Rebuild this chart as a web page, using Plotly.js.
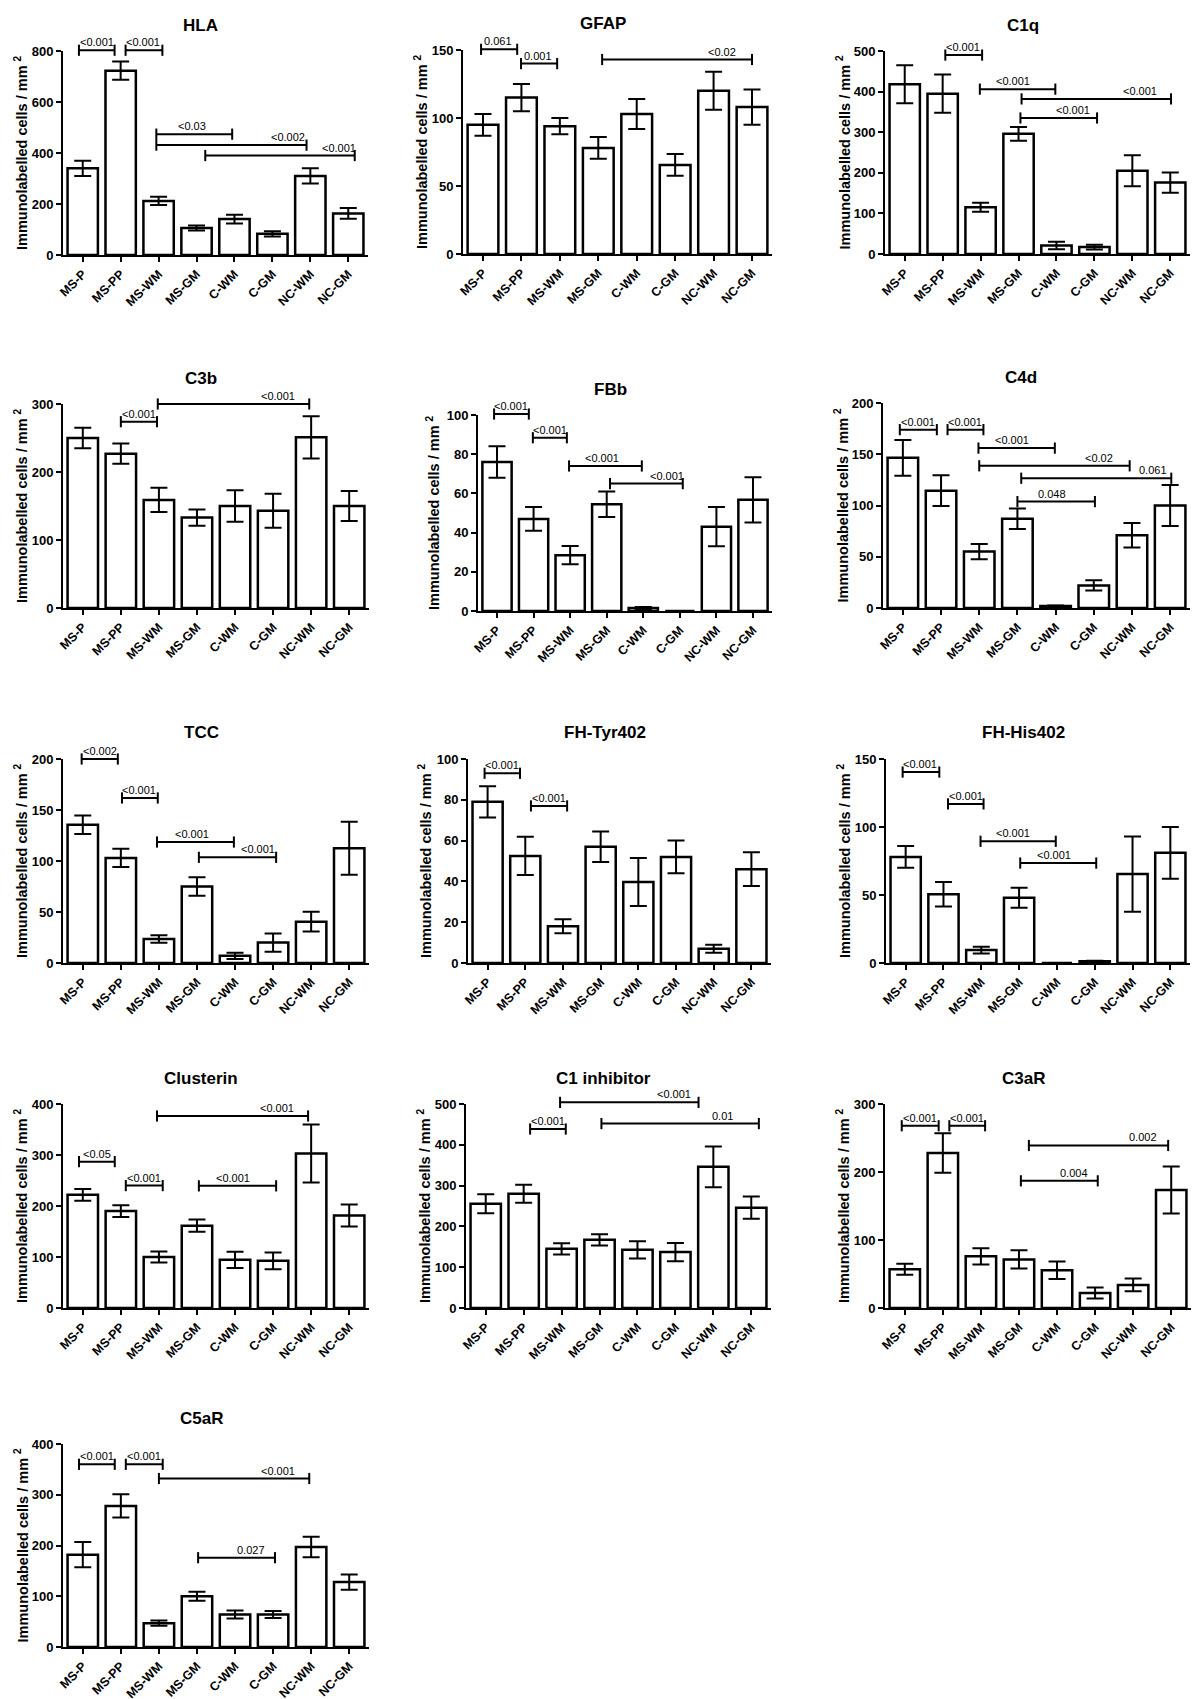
<!DOCTYPE html>
<html><head><meta charset="utf-8">
<script src="https://cdn.plot.ly/plotly-3.0.1.min.js"></script>
<style>html,body{margin:0;padding:0;background:#fff}#chart{width:1200px;height:1699px}</style>
</head><body><div id="chart"></div>
<script>
// ---------- DATA ----------
const categories = ['MS-P','MS-PP','MS-WM','MS-GM','C-WM','C-GM','NC-WM','NC-GM'];

const hlaMean = [340, 723, 212, 106, 141, 83, 310, 163];
const hlaSem  = [30, 36, 16, 10, 17, 10, 30, 21];
const gfapMean = [95, 115, 94, 78, 103, 65.5, 120, 108];
const gfapSem  = [8, 10, 6, 8, 11, 8, 14, 13];
const c1qMean = [418, 395, 115, 296, 21, 17, 205, 176];
const c1qSem  = [47, 47, 11, 17, 9, 6, 38, 25];
const c3bMean = [250, 227, 159, 133, 150, 143, 251, 150];
const c3bSem  = [15, 15, 18, 12, 23, 25, 31, 22];
const fbbMean = [76, 47, 28.5, 54.5, 1.5, 0, 43, 56.7];
const fbbSem  = [8, 6, 4.7, 6.5, 0.5, 0, 10, 11.5];
const c4dMean = [146.5, 114.5, 55, 87, 2, 22, 71, 100];
const c4dSem  = [17.5, 15, 7.5, 10, 0.5, 5, 12, 20];
const tccMean = [135.5, 103, 23.5, 75, 7, 20, 40.5, 112.5];
const tccSem  = [9, 9, 3.7, 9, 3, 9, 9.7, 26];
const tyrMean = [79, 52.5, 18, 57, 39.7, 52, 7, 46];
const tyrSem  = [7.7, 9.4, 3.4, 7.5, 11.8, 8, 2, 8.3];
const hisMean = [78, 50.5, 9.5, 48, 0, 1.2, 65.4, 81];
const hisSem  = [8, 9, 2.5, 7.3, 0, 0.5, 27.7, 19];
const cluMean = [222, 190, 100, 161.5, 94.5, 92.5, 303, 181.5];
const cluSem  = [11.5, 11.5, 11, 12, 16, 16.5, 57, 21.5];
const c1iMean = [255.5, 280, 145, 167, 142.5, 137, 346, 246];
const c1iSem  = [23.5, 22, 14, 14, 21, 22.5, 50, 27.5];
const c3arMean = [57, 228, 76, 71.5, 55.5, 22, 34, 173.5];
const c3arSem  = [8, 29, 12, 13.5, 13, 8, 9.5, 34.5];
const c5arMean = [182, 278, 47, 100, 64, 64, 197, 128];
const c5arSem  = [25, 23, 5, 9, 8, 7, 20, 15];

// comparisons: [from, to, level, p-value, label position] (from/to/label in category units)
const hlaBr = [[-0.1,0.84,803,'&lt;0.001',0.37],[1.13,2.1,803,'&lt;0.001',1.6],[1.94,3.94,474,'&lt;0.03',2.89],[1.94,5.9,431,'&lt;0.002',5.4],[3.23,7.17,390,'&lt;0.001',6.75]];
const gfapBr = [[-0.05,0.89,150.5,'0.061',0.39],[0.99,1.93,140,'0.001',1.43],[3.1,7.0,143,'&lt;0.02',6.22]];
const c1qBr = [[1.07,2.04,490,'&lt;0.001',1.54],[1.98,3.97,406,'&lt;0.001',2.85],[3.08,7.02,382,'&lt;0.001',6.19],[3.05,5.07,335,'&lt;0.001',4.44]];
const c3bBr = [[1.0,1.95,274,'&lt;0.001',1.47],[1.97,5.95,300,'&lt;0.001',5.13]];
const fbbBr = [[-0.08,0.87,100.5,'&lt;0.001',0.38],[0.98,1.91,88.4,'&lt;0.001',1.45],[1.97,3.96,74,'&lt;0.001',2.87],[3.09,5.08,65,'&lt;0.001',4.64]];
const c4dBr = [[-0.08,0.89,174,'&lt;0.001',0.4],[1.17,2.11,174,'&lt;0.001',1.64],[1.98,3.98,156,'&lt;0.001',2.87],[2.0,5.94,138.7,'&lt;0.02',5.13],[3.1,7.03,126.6,'0.061',6.54],[3.0,5.03,103.8,'0.048',3.91]];
const tccBr = [[-0.03,0.92,200,'&lt;0.002',0.45],[1.03,1.97,161.8,'&lt;0.001',1.47],[1.95,3.97,118.6,'&lt;0.001',2.87],[3.05,5.08,103.6,'&lt;0.001',4.6]];
const tyrBr = [[-0.08,0.86,93,'&lt;0.001',0.39],[1.15,2.11,77,'&lt;0.001',1.64]];
const hisBr = [[-0.08,0.89,140.4,'&lt;0.001',0.39],[1.12,2.06,117,'&lt;0.001',1.59],[1.98,3.97,89.5,'&lt;0.001',2.85],[3.03,5.04,73.5,'&lt;0.001',3.92]];
const cluBr = [[-0.1,0.84,287,'&lt;0.05',0.37],[1.13,2.1,240,'&lt;0.001',1.6],[3.05,5.08,239.5,'&lt;0.001',3.95],[1.95,5.92,376.5,'&lt;0.001',5.1]];
const c1iBr = [[1.17,2.11,438.7,'&lt;0.001',1.64],[1.96,5.61,504,'&lt;0.001',4.96],[3.05,7.2,452,'0.01',6.24]];
const c3arBr = [[-0.08,0.89,268,'&lt;0.001',0.39],[1.17,2.11,268,'&lt;0.001',1.64],[3.26,6.92,239,'0.002',6.27],[3.05,5.07,187,'0.004',4.44]];
const c5arBr = [[-0.1,0.84,360,'&lt;0.001',0.37],[1.13,2.1,360,'&lt;0.001',1.6],[2.0,5.95,332,'&lt;0.001',5.12],[3.03,5.05,176,'0.027',4.43]];

// ---------- LAYOUT CONFIG ----------
const W = 1200, H = 1699;
const EXT = 40; // extra pixels above each plot for the comparison brackets layer
const panels = [
  {title:'HLA', mean:hlaMean, sem:hlaSem, br:hlaBr, ymax:800, dtick:200, box:[63,368,51,255], ytx:42},
  {title:'GFAP', mean:gfapMean, sem:gfapSem, br:gfapBr, ymax:150, dtick:50, box:[463,772,50,254], ytx:42},
  {title:'C1q', mean:c1qMean, sem:c1qSem, br:c1qBr, ymax:500, dtick:100, box:[885,1190,51,254], ytx:42},
  {title:'C3b', mean:c3bMean, sem:c3bSem, br:c3bBr, ymax:300, dtick:100, box:[63,369,404,608], ytx:42},
  {title:'FBb', mean:fbbMean, sem:fbbSem, br:fbbBr, ymax:100, dtick:20, box:[478,772,415,611], ytx:45},
  {title:'C4d', mean:c4dMean, sem:c4dSem, br:c4dBr, ymax:200, dtick:50, box:[883,1190,403,608], ytx:42},
  {title:'TCC', mean:tccMean, sem:tccSem, br:tccBr, ymax:200, dtick:50, box:[63,369,759,963], ytx:42},
  {title:'FH-Tyr402', mean:tyrMean, sem:tyrSem, br:tyrBr, ymax:100, dtick:20, box:[468,771,759,963], ytx:43},
  {title:'FH-His402', mean:hisMean, sem:hisSem, br:hisBr, ymax:150, dtick:50, box:[886,1190,759,963], ytx:42},
  {title:'Clusterin', mean:cluMean, sem:cluSem, br:cluBr, ymax:400, dtick:100, box:[63,369,1104,1308], ytx:42},
  {title:'C1 inhibitor', mean:c1iMean, sem:c1iSem, br:c1iBr, ymax:500, dtick:100, box:[466,771,1104,1308], ytx:42},
  {title:'C3aR', mean:c3arMean, sem:c3arSem, br:c3arBr, ymax:300, dtick:100, box:[885,1191,1104,1308], ytx:42},
  {title:'C5aR', mean:c5arMean, sem:c5arSem, br:c5arBr, ymax:400, dtick:100, box:[63,369,1444,1647], ytx:42}
];

const FONT = '"Liberation Sans", Arial, Helvetica, sans-serif';
const XRANGE = [-0.52, 7.52];
const data = [];
const layout = {
  width: W, height: H, margin:{l:0,r:0,t:0,b:0},
  paper_bgcolor:'#fff', plot_bgcolor:'rgba(0,0,0,0)',
  font:{family:FONT, color:'#000'}, showlegend:false,
  annotations: []
};
const key = (a, n) => a + (n === 1 ? '' : n);
const NP = panels.length;

panels.forEach((p, i) => {
  const n = i + 1, m = i + 1 + NP;
  const xr = key('x', n), yr = key('y', n);
  const xo = key('x', m), yo = key('y', m);
  const [xL, xR, yT, yB] = p.box;
  const idx = categories.map((_, k) => k);

  layout[key('xaxis', n)] = {
    domain:[xL / W, xR / W], anchor: yr, range: XRANGE,
    tickmode:'array', tickvals: idx, ticktext: categories, tickangle:-45,
    ticks:'outside', ticklen:5, tickwidth:2, tickcolor:'#000',
    showline:true, linewidth:2, linecolor:'#000', showgrid:false, zeroline:false,
    tickfont:{family:FONT, size:12.5, color:'#000', weight:'bold'}, fixedrange:true
  };
  layout[key('yaxis', n)] = {
    domain:[1 - yB / H, 1 - yT / H], anchor: xr, range:[0, p.ymax],
    tickmode:'linear', tick0:0, dtick:p.dtick,
    ticks:'outside', ticklen:5, tickwidth:2, tickcolor:'#000',
    showline:true, linewidth:2, linecolor:'#000', showgrid:false, zeroline:false,
    tickfont:{family:FONT, size:13, color:'#000', weight:'bold'}, fixedrange:true
  };
  // hidden layer with the same scale, extended upward, for the comparison brackets
  const h = yB - yT;
  layout[key('xaxis', m)] = {domain:[xL / W, xR / W], anchor: yo, range: XRANGE, visible:false, fixedrange:true};
  layout[key('yaxis', m)] = {domain:[1 - yB / H, 1 - (yT - EXT) / H], anchor: xo,
    range:[0, p.ymax * (h + EXT) / h], visible:false, fixedrange:true};

  data.push({
    type:'bar', x: idx, y: p.mean, width:0.8, xaxis: xr, yaxis: yr,
    marker:{color:'#fff', line:{color:'#000', width:2.5}},
    error_y:{type:'data', array: p.sem, visible:true, color:'#000', thickness:2, width:8.5},
    hoverinfo:'skip', showlegend:false
  });

  p.br.forEach(b => {
    data.push({
      type:'scatter', mode:'lines+markers', x:[b[0], b[1]], y:[b[2], b[2]],
      xaxis: xo, yaxis: yo,
      line:{color:'#000', width:2},
      marker:{symbol:'line-ns', size:8, color:'#000', line:{color:'#000', width:2}},
      hoverinfo:'skip', showlegend:false
    });
    layout.annotations.push({
      xref: xo, yref: yo, x: b[4], y: b[2], text: b[3], showarrow:false,
      xanchor:'center', yanchor:'bottom', yshift:0,
      font:{family:FONT, size:11, color:'#000'}
    });
  });

  // panel title
  layout.annotations.push({
    xref:'paper', yref:'paper', x: ((xL + xR) / 2 - 15) / W, y: 1 - (yT - 26) / H,
    text: p.title, showarrow:false, xanchor:'center', yanchor:'middle',
    font:{family:FONT, size:17, color:'#000', weight:'bold'}
  });
  // y-axis title
  layout.annotations.push({
    xref:'paper', yref:'paper', x: (xL - p.ytx) / W, y: 1 - ((yT + yB) / 2) / H,
    text:'Immunolabelled cells / mm <sup>2</sup>', textangle:-90, showarrow:false,
    xanchor:'center', yanchor:'middle',
    font:{family:FONT, size:14.5, color:'#000', weight:'bold'}
  });
});

Plotly.newPlot('chart', data, layout, {staticPlot:true, displayModeBar:false});
</script>
</body></html>
